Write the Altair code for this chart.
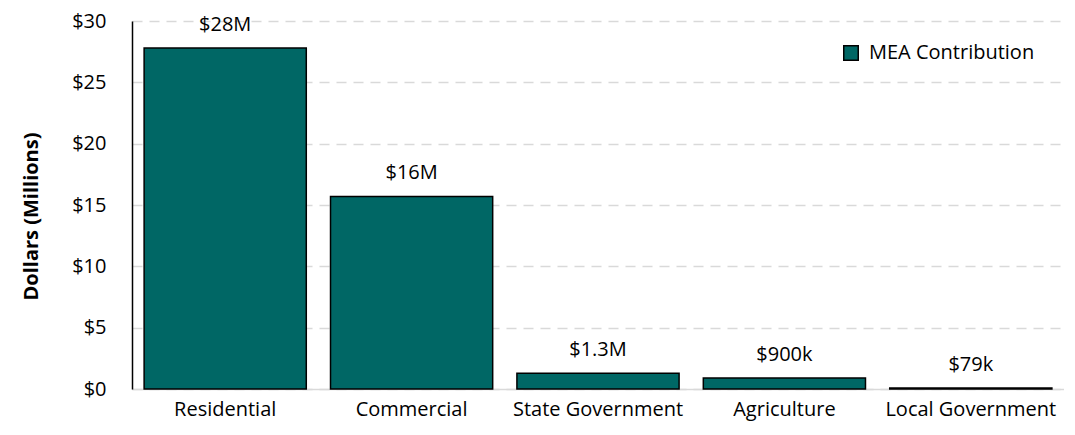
import altair as alt
import pandas as pd

categories = ["Residential", "Commercial", "State Government", "Agriculture", "Local Government"]
values = [27.8, 15.7, 1.28, 0.9, 0.079]
labels = ["$28M", "$16M", "$1.3M", "$900k", "$79k"]
series = "MEA Contribution"

df = pd.DataFrame({"category": categories, "value": values, "label": labels, "series": [series] * len(categories)})

FONT = "Open Sans"
TEAL = "#006765"
FS = 20

x = alt.X("category:N", sort=categories, title=None,
          scale=alt.Scale(paddingInner=0.13, paddingOuter=0.065),
          axis=alt.Axis(labelAngle=0, labelFontSize=FS, labelFont=FONT, labelColor="#000000",
                        ticks=False, domainColor="#d9d9d9", domainWidth=1.5, labelPadding=10))
y = alt.Y("value:Q", title="Dollars (Millions)",
          scale=alt.Scale(domain=[0, 30], nice=False),
          axis=alt.Axis(values=[0, 5, 10, 15, 20, 25, 30], labelExpr="'$' + datum.value",
                        labelFontSize=FS, labelFont=FONT, labelColor="#000000", ticks=False,
                        domainColor="#000000", domainWidth=1.5, labelPadding=26,
                        gridColor="#d9d9d9", gridDash=[10, 7], gridWidth=1.5,
                        titleFont=FONT, titleFontSize=20, titleFontWeight="bold", titleColor="#000000",
                        titlePadding=30, titleY=195))

bars = alt.Chart(df).mark_bar(stroke="#000000", strokeWidth=1.5).encode(
    x=x, y=y,
    color=alt.Color("series:N", scale=alt.Scale(range=[TEAL]), title=None,
                    legend=alt.Legend(orient="none", legendX=709, legendY=22, symbolType="square",
                                      symbolSize=210, symbolStrokeColor="#000000", symbolStrokeWidth=1.5,
                                      labelFont=FONT, labelFontSize=FS, labelColor="#000000",
                                      labelOffset=8, labelLimit=400))
)

text = alt.Chart(df).mark_text(baseline="bottom", dy=-13, fontSize=FS, font=FONT, color="#000000").encode(
    x=alt.X("category:N", sort=categories), y="value:Q", text="label:N"
)

chart = (bars + text).properties(
    width=932, height=368,
    autosize=alt.AutoSizeParams(type="none"),
    padding={"left": 124, "top": 13, "right": 0, "bottom": 38},
).configure_view(stroke=None).configure_axis(grid=False).configure_axisY(grid=True)

chart.save("out.html", embed_options={"renderer": "svg", "actions": False})
